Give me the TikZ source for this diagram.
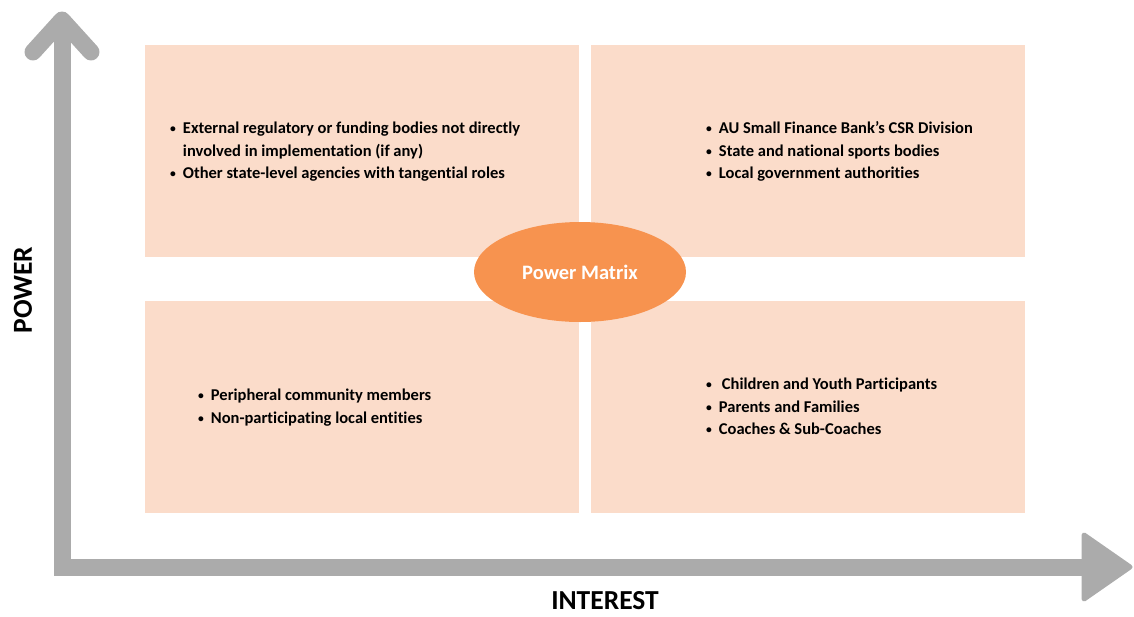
\documentclass[tikz,border=0pt]{standalone}
\usepackage{fontspec}
\setmainfont{Carlito}[Ligatures=NoCommon]
\usetikzlibrary{shapes.geometric}
\definecolor{boxpeach}{HTML}{FBDCCA}
\definecolor{ovalorange}{HTML}{F7934F}
\definecolor{axisgray}{HTML}{ABABAB}
\newcommand{\bul}{\raisebox{1pt}{\scalebox{0.7}{\textbullet}}}
\begin{document}
\begin{tikzpicture}[x=1pt,y=-1pt]
\tikzstyle{quad}=[fill=boxpeach,minimum width=434pt,minimum height=212pt,inner sep=0pt]
\tikzstyle{items}=[anchor=west,inner sep=0pt,font=\fontsize{16.5}{22.7}\selectfont\bfseries]
\tikzstyle{axis}=[draw=axisgray,line width=17pt]
\tikzstyle{axislabel}=[font=\fontsize{27.5}{30}\selectfont\bfseries]
\useasboundingbox (0,0) rectangle (1134,616);
\node[quad] (hp-li) at (362,151) {};
\node[quad] (hp-hi) at (808,151) {};
\node[quad] (lp-li) at (362,407) {};
\node[quad] (lp-hi) at (808,407) {};
\node[ellipse,fill=ovalorange,minimum width=212pt,minimum height=100pt,
  text=white,font=\fontsize{20.5}{22}\selectfont\bfseries] (matrix) at (580,272) {Power Matrix};
\node[items] (t1) at (170,151.5) {\begin{tabular}{@{}l@{\hspace{7pt}}l@{}}
\bul & External regulatory or funding bodies not directly\\
 & involved in implementation (if any)\\
\bul & Other state-level agencies with tangential roles
\end{tabular}};
\node[items] (t2) at (706,151.5) {\begin{tabular}{@{}l@{\hspace{7pt}}l@{}}
\bul & AU Small Finance Bank's CSR Division\\
\bul & State and national sports bodies\\
\bul & Local government authorities
\end{tabular}};
\node[items] (t3) at (198,407.5) {\begin{tabular}{@{}l@{\hspace{7pt}}l@{}}
\bul & Peripheral community members\\
\bul & Non-participating local entities
\end{tabular}};
\node[items] (t4) at (706,407.5) {\begin{tabular}{@{}l@{\hspace{7pt}}l@{}}
\bul & \hspace{3pt}Children and Youth Participants\\
\bul & Parents and Families\\
\bul & Coaches \& Sub-Coaches
\end{tabular}};
\coordinate (origin) at (62,567);
\coordinate (ytop) at (62,20);
\coordinate (xend) at (1086,567);
\draw[axis] (ytop) -- (origin) -- (xend);
\draw[axis,line cap=round,line join=round] (33,52) -- (ytop) -- (91,52);
\filldraw[draw=axisgray,fill=axisgray,line width=5pt,line join=round]
  (1084,535) -- (1130,567) -- (1084,599) -- cycle;
\node[axislabel,rotate=90] (power) at (23,290) {POWER};
\node[axislabel] (interest) at (605,601) {INTEREST};
\end{tikzpicture}
\end{document}
